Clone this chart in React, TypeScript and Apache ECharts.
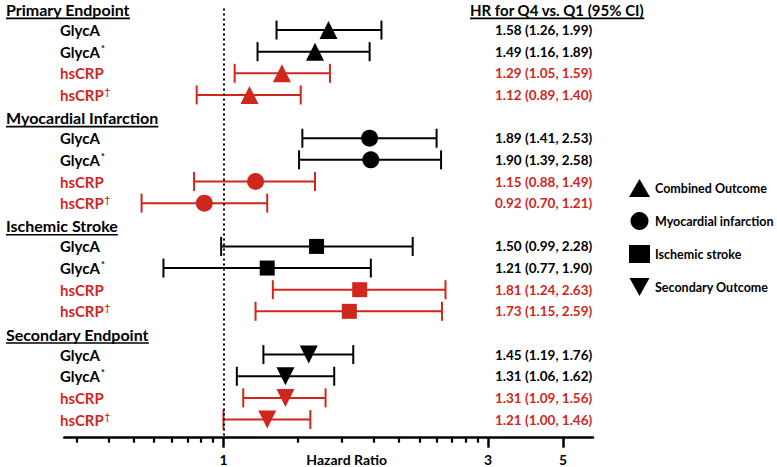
import React, { useEffect, useRef } from 'react';
import * as echarts from 'echarts';

// ---------- data ----------
const groupNames = ['Primary Endpoint', 'Myocardial Infarction', 'Ischemic Stroke', 'Secondary Endpoint'];
const legendNames = ['Combined Outcome', 'Myocardial infarction', 'Ischemic stroke', 'Secondary Outcome'];
const itemLabels = ['GlycA', 'GlycA', 'hsCRP', 'hsCRP'];
const itemMarks = ['', '*', '', '\u2020'];
const itemIsCRP = [0, 0, 1, 1];

const hrPrimary = [1.58, 1.49, 1.29, 1.12];
const lowPrimary = [1.26, 1.16, 1.05, 0.89];
const highPrimary = [1.99, 1.89, 1.59, 1.40];

const hrMI = [1.89, 1.90, 1.15, 0.92];
const lowMI = [1.41, 1.39, 0.88, 0.70];
const highMI = [2.53, 2.58, 1.49, 1.21];

const hrStroke = [1.50, 1.21, 1.81, 1.73];
const lowStroke = [0.99, 0.77, 1.24, 1.15];
const highStroke = [2.28, 1.90, 2.63, 2.59];

const hrSecondary = [1.45, 1.31, 1.31, 1.21];
const lowSecondary = [1.19, 1.06, 1.09, 1.00];
const highSecondary = [1.76, 1.62, 1.56, 1.46];

const hrHeader = 'HR for Q4 vs. Q1 (95% CI)';
const axisName = 'Hazard Ratio';

// axis ticks as drawn in the figure (HR units)
const majorTickValues = [1, 3.165, 4.388];
const majorTickLabels = ['1', '3', '5'];
const minorTickValues = [0.528, 0.607, 0.677, 0.739, 0.799, 0.857, 0.907, 0.955,
  1.383, 1.676, 1.927, 2.148, 2.354, 2.535, 2.706, 2.876, 3.03];

// ---------- styling ----------
const FONT = 'Lato, "Open Sans", sans-serif';
const BLACK = '#000000';
const RED = '#d0271d';
const symbols = ['triangle', 'circle', 'rect', 'path://M0,0L20,0L10,18Z'];
const symbolSizes = [18, 17, 15, 18];

function measure(text: string, font: string): number {
  const c = document.createElement('canvas');
  const ctx = c.getContext('2d');
  if (!ctx) return text.length * 8;
  ctx.font = font;
  return ctx.measureText(text).width;
}

export default function App() {
  const ref = useRef<HTMLDivElement>(null);
  useEffect(() => {
    document.body.style.margin = '0';
    if (!ref.current) return;
    const chart = echarts.init(ref.current, null, { renderer: 'svg' });

    const hrs = [hrPrimary, hrMI, hrStroke, hrSecondary];
    const lows = [lowPrimary, lowMI, lowStroke, lowSecondary];
    const highs = [highPrimary, highMI, highStroke, highSecondary];

    const rowOf = (g: number, i: number) => g * 5 + 1 + i;
    const itemRows: number[] = [];
    const headerRows: number[] = [];
    const rowInfo: Record<number, { g: number; i: number }> = {};
    groupNames.forEach((_, g) => {
      headerRows.push(g * 5);
      itemLabels.forEach((__, i) => {
        const r = rowOf(g, i);
        itemRows.push(r);
        rowInfo[r] = { g, i };
      });
    });

    const headerFontSize = 16;
    const headerFont = `bold ${headerFontSize}px Lato`;
    const hrHeaderFontSize = 15;
    const hrHeaderFont = `bold ${hrHeaderFontSize}px Lato`;
    const rich: any = {
      sp: { height: 4, lineHeight: 4 },
      h: { fontFamily: FONT, fontWeight: 'bold', fontSize: headerFontSize, color: BLACK, lineHeight: 16 },
      hh: { fontFamily: FONT, fontWeight: 'bold', fontSize: hrHeaderFontSize, color: BLACK, lineHeight: 16 },
      k: { fontFamily: FONT, fontWeight: 'bold', fontSize: 15, color: BLACK },
      r: { fontFamily: FONT, fontWeight: 'bold', fontSize: 15, color: RED },
      ks: { fontFamily: FONT, fontWeight: 'bold', fontSize: 9, color: BLACK, verticalAlign: 'top', padding: [0, 0, 7, 1] },
      rs: { fontFamily: FONT, fontWeight: 'bold', fontSize: 9, color: RED, verticalAlign: 'top', padding: [0, 0, 7, 1] },
      hk: { fontFamily: FONT, fontWeight: 'bold', fontSize: 13.5, color: BLACK },
      hr: { fontFamily: FONT, fontWeight: 'bold', fontSize: 13.5, color: RED },
    };
    groupNames.forEach((n, g) => {
      rich['u' + g] = { width: measure(n, headerFont), height: 1.6, lineHeight: 1.6, backgroundColor: BLACK };
    });
    rich.uh = { width: measure(hrHeader, hrHeaderFont), height: 1.6, lineHeight: 1.6, backgroundColor: BLACK };

    const yBase = {
      type: 'value',
      inverse: true,
      min: 0,
      max: 19.84,
      axisLine: { show: false },
      axisTick: { show: false },
      splitLine: { show: false },
    };

    const errData: any[] = [];
    const scatterSeries: any[] = [];
    groupNames.forEach((_, g) => {
      const data: any[] = [];
      hrs[g].forEach((v, i) => {
        const color = itemIsCRP[i] ? RED : BLACK;
        errData.push([lows[g][i], highs[g][i], rowOf(g, i), itemIsCRP[i]]);
        data.push({ value: [v, rowOf(g, i)], itemStyle: { color } });
      });
      scatterSeries.push({
        type: 'scatter',
        name: legendNames[g],
        symbol: symbols[g],
        symbolSize: symbolSizes[g],
        itemStyle: { color: BLACK, opacity: 1 },
        data,
        z: 5,
        silent: true,
      });
    });

    const majorIndex = (v: number) => {
      let best = 0;
      majorTickValues.forEach((t, k) => {
        if (Math.abs(t - v) < Math.abs(majorTickValues[best] - v)) best = k;
      });
      return best;
    };

    const option: any = {
      animation: false,
      backgroundColor: '#ffffff',
      grid: { left: 64.3, right: 184, top: 8.4, bottom: 29.3, containLabel: false, outerBoundsMode: 'none' },
      legend: {
        show: true,
        orient: 'vertical',
        left: 624,
        top: 174,
        itemWidth: 21,
        itemHeight: 18,
        itemGap: 15,
        selectedMode: false,
        textStyle: { fontFamily: FONT, fontWeight: 'bold', fontSize: 12.5, color: BLACK },
        data: legendNames.map((n, g) => ({ name: n, icon: symbols[g] })),
      },
      xAxis: [
        {
          type: 'log',
          logBase: 10,
          min: 0.5,
          max: 5,
          position: 'bottom',
          axisLine: { show: true, onZero: false, lineStyle: { color: BLACK, width: 2.5 } },
          axisTick: { show: true, customValues: majorTickValues, length: 10, lineStyle: { color: BLACK, width: 2.5 } },
          axisLabel: {
            show: true,
            customValues: majorTickValues,
            formatter: (v: number) => majorTickLabels[majorIndex(v)],
            fontFamily: FONT,
            fontWeight: 'bold',
            fontSize: 14,
            color: BLACK,
            margin: 15,
          },
          minorTick: { show: false },
          splitLine: { show: false },
          name: axisName,
          nameLocation: 'middle',
          nameGap: 15,
          nameMoveOverlap: false,
          nameTextStyle: {
            fontFamily: FONT, fontWeight: 'bold', fontSize: 14, color: BLACK,
            padding: [0, 0, 0, 36], verticalAlign: 'top',
          },
        },
        {
          type: 'log',
          logBase: 10,
          min: 0.5,
          max: 5,
          position: 'bottom',
          axisLine: { show: false, onZero: false },
          axisTick: { show: true, customValues: minorTickValues, length: 5, lineStyle: { color: BLACK, width: 2.2 } },
          axisLabel: { show: false },
          minorTick: { show: false },
          splitLine: { show: false },
        },
      ],
      yAxis: [
        {
          ...yBase,
          position: 'left',
          axisLabel: {
            customValues: headerRows,
            align: 'left',
            margin: 58.3,
            formatter: (v: number) => {
              const g = Math.round(v / 5);
              return `{sp|}\n{h|${groupNames[g]}}\n{u${g}|}`;
            },
            rich,
          },
        },
        {
          ...yBase,
          position: 'left',
          axisLabel: {
            customValues: itemRows,
            align: 'left',
            margin: 4.3,
            formatter: (v: number) => {
              const info = rowInfo[Math.round(v)];
              if (!info) return '';
              const base = itemIsCRP[info.i] ? 'r' : 'k';
              const mark = itemMarks[info.i];
              return `{${base}|${itemLabels[info.i]}}` + (mark ? `{${base}s|${mark}}` : '');
            },
            rich,
          },
        },
        {
          ...yBase,
          position: 'right',
          axisLabel: {
            customValues: itemRows,
            align: 'left',
            margin: -98,
            formatter: (v: number) => {
              const info = rowInfo[Math.round(v)];
              if (!info) return '';
              const { g, i } = info;
              const s = `${hrs[g][i].toFixed(2)} (${lows[g][i].toFixed(2)}, ${highs[g][i].toFixed(2)})`;
              return `{${itemIsCRP[i] ? 'hr' : 'hk'}|${s}}`;
            },
            rich,
          },
        },
        {
          ...yBase,
          position: 'right',
          axisLabel: {
            customValues: [0],
            align: 'left',
            margin: -123,
            formatter: () => `{sp|}\n{hh|${hrHeader}}\n{uh|}`,
            rich,
          },
        },
      ],
      series: [
        {
          type: 'custom',
          name: 'ci',
          xAxisIndex: 0,
          yAxisIndex: 0,
          silent: true,
          z: 2,
          encode: { x: [0, 1], y: 2 },
          data: errData,
          renderItem: (params: any, api: any) => {
            const y = api.value(2);
            const p0 = api.coord([api.value(0), y]);
            const p1 = api.coord([api.value(1), y]);
            const color = api.value(3) === 1 ? RED : BLACK;
            const cap = 9.5;
            const st = { stroke: color, lineWidth: 2 };
            return {
              type: 'group',
              children: [
                { type: 'line', shape: { x1: p0[0], y1: p0[1], x2: p1[0], y2: p1[1] }, style: st },
                { type: 'line', shape: { x1: p0[0], y1: p0[1] - cap, x2: p0[0], y2: p0[1] + cap }, style: st },
                { type: 'line', shape: { x1: p1[0], y1: p1[1] - cap, x2: p1[0], y2: p1[1] + cap }, style: st },
              ],
            };
          },
          markLine: {
            silent: true,
            symbol: ['none', 'none'],
            label: { show: false },
            lineStyle: { type: [2, 3], color: BLACK, width: 2 },
            data: [{ xAxis: 1 }],
          },
        },
        ...scatterSeries,
      ],
    };

    chart.setOption(option);
    return () => chart.dispose();
  }, []);
  return <div ref={ref} style={{ width: 777, height: 467 }} />;
}
